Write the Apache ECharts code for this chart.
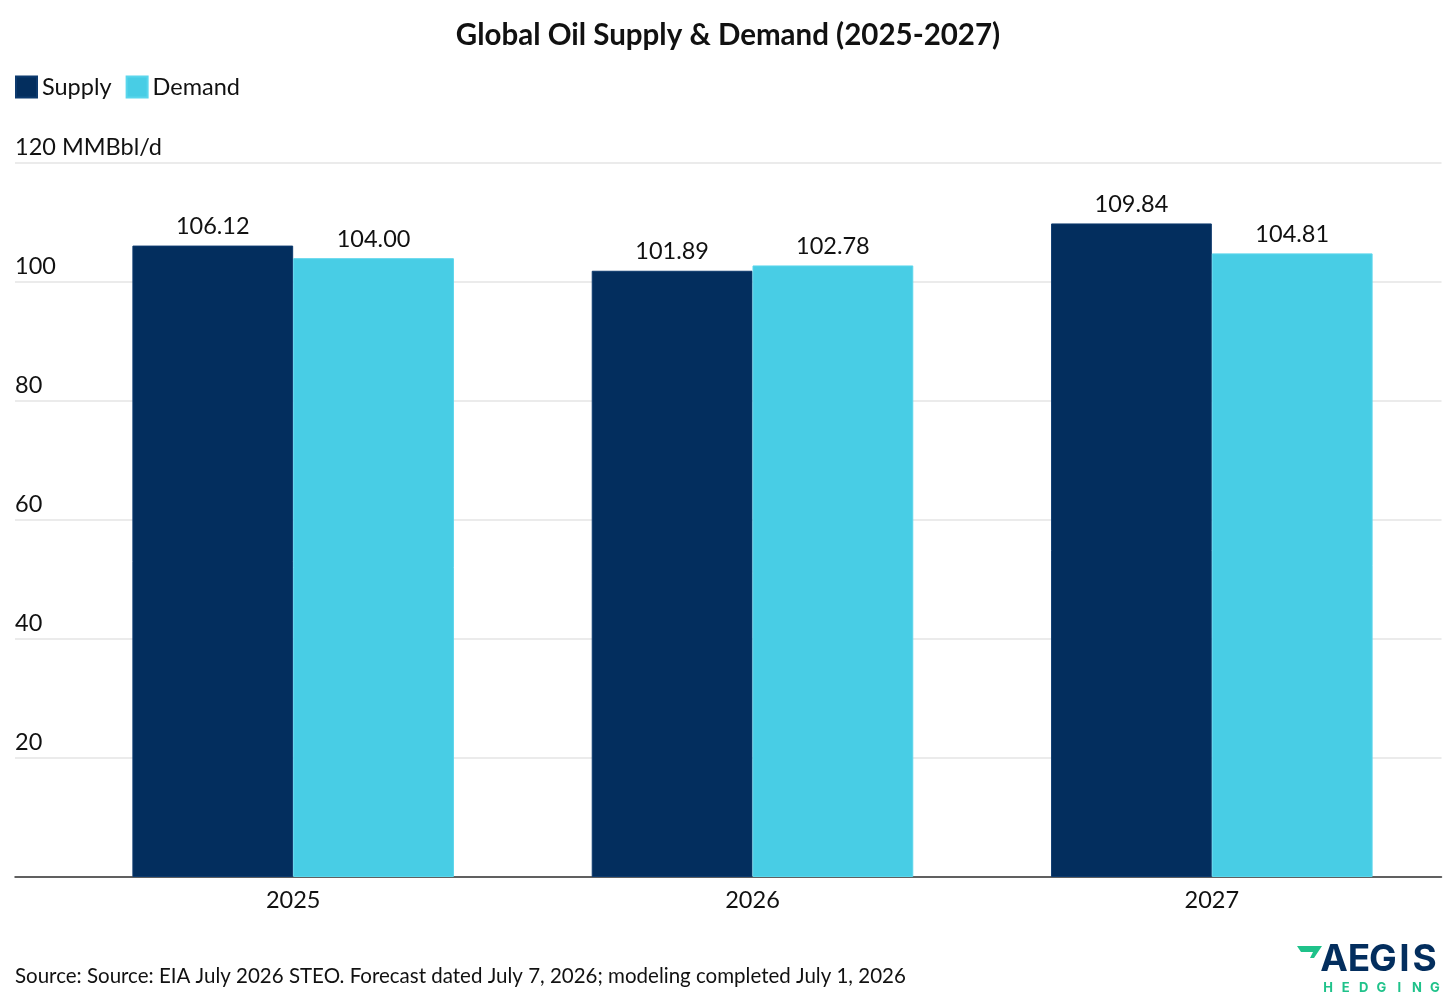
<!DOCTYPE html>
<html>
<head>
<meta charset="utf-8">
<title>Global Oil Supply & Demand</title>
<script src="https://cdn.jsdelivr.net/npm/echarts@6/dist/echarts.min.js"></script>
<style>
  html, body { margin: 0; padding: 0; background: #fff; }
  #chart { width: 1456px; height: 1007px; }
</style>
</head>
<body>
<div id="chart"></div>
<script>
const years = ['2025', '2026', '2027'];
const supply = [106.12, 101.89, 109.84];
const demand = [104.00, 102.78, 104.81];
const yTicks = [0, 20, 40, 60, 80, 100, 120];
const yUnit = 'MMBbl/d';
const sourceNote = 'Source: Source: EIA July 2026 STEO. Forecast dated July 7, 2026; modeling completed July 1, 2026';

const FONT = 'Lato, "Open Sans", sans-serif';
const NAVY = '#032e5e';
const CYAN = '#48cde5';
const GREEN = '#1fc28a';

const chart = echarts.init(document.getElementById('chart'));

// logo: letters placed one by one so the spacing matches
const logoTop = 'AEGIS'.split('');
const logoTopX = [1334, 1359, 1383, 1404.5, 1424.5];
const logoBottom = 'HEDGING'.split('');
const logoEls = [];
logoTop.forEach((ch, i) => {
  logoEls.push({
    type: 'text', x: logoTopX[i], y: 960,
    style: { text: ch, font: 'bold 37px Inter, "Open Sans", sans-serif', fill: NAVY, align: 'center', verticalAlign: 'middle' }
  });
});
logoBottom.forEach((ch, i) => {
  logoEls.push({
    type: 'text', x: 1328 + i * 17.8, y: 988,
    style: { text: ch, font: 'bold 13px Inter, "Open Sans", sans-serif', fill: GREEN, align: 'center', verticalAlign: 'middle' }
  });
});
logoEls.push({
  type: 'polygon',
  shape: { points: [[1297, 946], [1322, 946], [1314, 958], [1310, 958], [1313, 952], [1301, 952]] },
  style: { fill: GREEN }
});

const valueLabel = {
  show: true, position: 'top', distance: 7,
  fontFamily: FONT, fontSize: 23.5, color: '#111',
  formatter: p => p.value.toFixed(2)
};

chart.setOption({
  backgroundColor: '#fff',
  animation: false,
  textStyle: { fontFamily: FONT },
  title: {
    text: 'Global Oil Supply & Demand (2025-2027)',
    left: 'center', top: 15,
    textStyle: { fontFamily: FONT, fontSize: 29.5, fontWeight: 'bold', color: '#111' }
  },
  legend: {
    left: 10, top: 70,
    itemWidth: 21, itemHeight: 21, itemGap: 14,
    icon: 'rect',
    textStyle: { fontFamily: FONT, fontSize: 23.5, color: '#111' },
    data: ['Supply', 'Demand']
  },
  grid: [
    { left: 15, right: 14.5, top: 163, bottom: 130 },
    { left: 63.5, right: 14.5, top: 163, bottom: 130 }
  ],
  xAxis: [
    {
      gridIndex: 0, type: 'value', min: 0, max: 1,
      axisLine: { show: true, onZero: false, lineStyle: { color: '#333', width: 1.5 } },
      axisTick: { show: false }, axisLabel: { show: false }, splitLine: { show: false }
    },
    {
      gridIndex: 1, type: 'category', data: years,
      axisLine: { show: false }, axisTick: { show: false },
      axisLabel: { fontFamily: FONT, fontSize: 23.5, color: '#111', margin: 11 }
    }
  ],
  yAxis: [
    {
      gridIndex: 0, type: 'value', min: 0, max: 120, interval: 20,
      axisLine: { show: false }, axisTick: { show: false },
      splitLine: { lineStyle: { color: '#e4e4e4', width: 1.5 } },
      axisLabel: {
        inside: true, margin: 0,
        verticalAlign: 'bottom',
        padding: [0, 0, 4, 0],
        fontFamily: FONT, fontSize: 23.5, color: '#111',
        formatter: v => v === 0 ? '' : (v === yTicks[yTicks.length - 1] ? v + ' ' + yUnit : String(v))
      }
    },
    {
      gridIndex: 1, type: 'value', min: 0, max: 120, interval: 20,
      show: false, splitLine: { show: false }
    }
  ],
  series: [
    {
      name: 'Supply', type: 'bar', xAxisIndex: 1, yAxisIndex: 1,
      data: supply, barGap: '0%', barCategoryGap: '30%',
      itemStyle: { color: NAVY, borderColor: '#0d3a6e', borderWidth: 1 },
      label: valueLabel
    },
    {
      name: 'Demand', type: 'bar', xAxisIndex: 1, yAxisIndex: 1,
      data: demand, barGap: '0%', barCategoryGap: '30%',
      itemStyle: { color: CYAN, borderColor: '#5ad6ec', borderWidth: 1 },
      label: valueLabel
    }
  ],
  graphic: [
    {
      type: 'text', left: 15, top: 966,
      style: { text: sourceNote, font: '20.5px ' + FONT, fill: '#111' }
    },
    { type: 'group', children: logoEls }
  ]
});
</script>
</body>
</html>
